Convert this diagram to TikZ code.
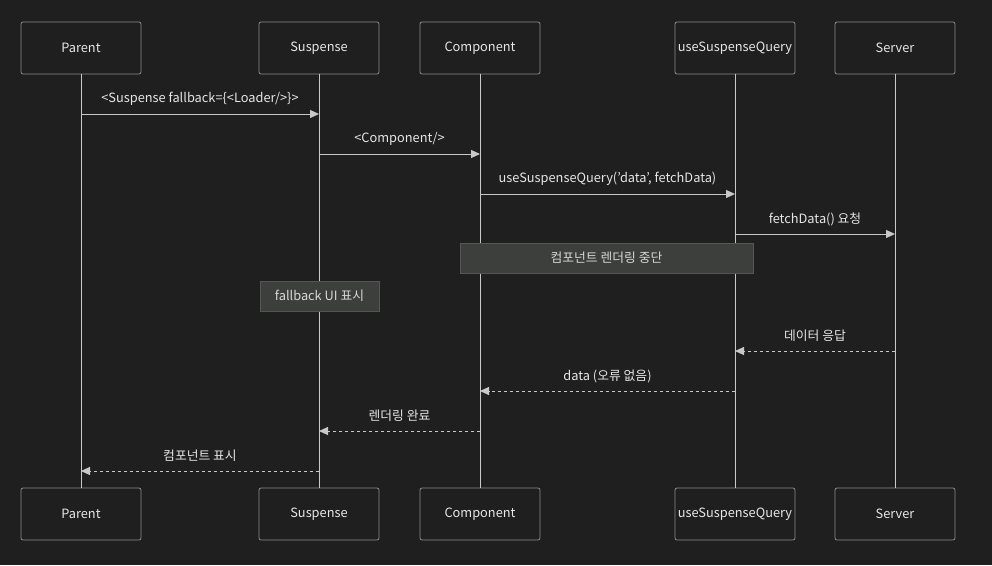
\documentclass[tikz,border=0pt]{standalone}
\usepackage{fontspec}
\setmainfont{Noto Sans CJK KR}
\usetikzlibrary{arrows.meta}
\definecolor{bg}{HTML}{1F1F1F}
\definecolor{boxline}{HTML}{8C8C8C}
\definecolor{txt}{HTML}{E6E6E6}
\definecolor{lifeline}{HTML}{C8C8C8}
\definecolor{notefill}{HTML}{3D3F3D}
\definecolor{noteline}{HTML}{555755}
\tikzset{
  actor/.style={draw=boxline, fill=bg, rounded corners=2pt, line width=0.8pt, minimum width=120pt, minimum height=52pt, inner sep=0pt, text=txt, font=\fontsize{12.8}{15}\selectfont},
  life/.style={draw=lifeline, line width=1pt},
  msg/.style={draw=lifeline, line width=1pt, -{Triangle[length=9pt,width=8pt]}},
  reply/.style={msg, dash pattern=on 3pt off 3pt},
  lbl/.style={text=txt, font=\fontsize{12.8}{15}\selectfont, inner sep=0pt},
  note/.style={draw=noteline, fill=notefill, line width=0.8pt, inner sep=0pt, text=txt!85!gray, font=\fontsize{12.8}{15}\selectfont}
}
\begin{document}
\begin{tikzpicture}[x=1pt,y=-1pt]
\fill[bg] (0,0) rectangle (992,565);
\useasboundingbox (0,0) rectangle (992,565);
% top actors
\node[actor] (pT) at (81,48) {Parent};
\node[actor] (sT) at (319,48) {Suspense};
\node[actor] (cT) at (480,48) {Component};
\node[actor] (qT) at (735,48) {useSuspenseQuery};
\node[actor] (vT) at (895,48) {Server};
% bottom actors
\node[actor] (pB) at (81,514) {Parent};
\node[actor] (sB) at (319,514) {Suspense};
\node[actor] (cB) at (480,514) {Component};
\node[actor] (qB) at (735,514) {useSuspenseQuery};
\node[actor] (vB) at (895,514) {Server};
% lifelines
\draw[life] (pT.south) -- (pB.north);
\draw[life] (sT.south) -- (sB.north);
\draw[life] (cT.south) -- (cB.north);
\draw[life] (qT.south) -- (qB.north);
\draw[life] (vT.south) -- (vB.north);
% message anchor coordinates
\coordinate (p1) at (81,114);  \coordinate (s1) at (319,114);
\coordinate (s2) at (319,154); \coordinate (c2) at (480,154);
\coordinate (c3) at (480,194); \coordinate (q3) at (735,194);
\coordinate (q4) at (735,234); \coordinate (v4) at (895,234);
\coordinate (v5) at (895,351); \coordinate (q5) at (735,351);
\coordinate (q6) at (735,391); \coordinate (c6) at (480,391);
\coordinate (c7) at (480,431); \coordinate (s7) at (319,431);
\coordinate (s8) at (319,471); \coordinate (p8) at (81,471);
% messages
\draw[msg] (p1) -- (s1);
\node[lbl] (l1) at (200,99) {<Suspense fallback=\{<Loader/>\}>};
\draw[msg] (s2) -- (c2);
\node[lbl] (l2) at (399.5,139) {<Component/>};
\draw[msg] (c3) -- (q3);
\node[lbl] (l3) at (607.5,179) {useSuspenseQuery('data', fetchData)};
\draw[msg] (q4) -- (v4);
\node[lbl] (l4) at (815,219) {fetchData() 요청};
% notes
\node[note, minimum width=293pt, minimum height=30pt] (n1) at (606.5,258) {컴포넌트 렌더링 중단};
\node[note, minimum width=119pt, minimum height=30pt] (n2) at (319.5,296) {fallback UI 표시};
% replies
\draw[reply] (v5) -- (q5);
\node[lbl] (l5) at (815,336) {데이터 응답};
\draw[reply] (q6) -- (c6);
\node[lbl] (l6) at (607.5,376) {data (오류 없음)};
\draw[reply] (c7) -- (s7);
\node[lbl] (l7) at (399.5,416) {렌더링 완료};
\draw[reply] (s8) -- (p8);
\node[lbl] (l8) at (200,456) {컴포넌트 표시};
\end{tikzpicture}
\end{document}
